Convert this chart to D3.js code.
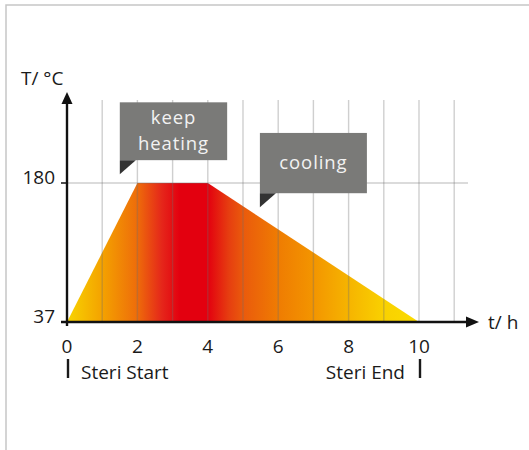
<!DOCTYPE html>
<html>
<head>
<meta charset="utf-8">
<script src="https://cdn.jsdelivr.net/npm/d3@7"></script>
<style>
  html, body { margin: 0; padding: 0; background: #fff; }
  svg { display: block; font-family: "Open Sans", "Noto Sans", sans-serif; }
</style>
</head>
<body>
<div id="chart"></div>
<script>
// sterilisation profile: time (h) vs temperature (°C)
const hours = [0, 2, 4, 10];
const temps = [37, 180, 180, 37];

const xTicks = [0, 2, 4, 6, 8, 10];
const yTicks = [37, 180];
const gridHours = [1, 2, 3, 4, 5, 6, 7, 8, 9, 10, 11];

// colour ramp along the time axis
const rampHours = [0, 1, 2, 2.7, 3.2, 4, 4.6, 5, 6, 7, 8, 9, 10];
const rampColors = ['#f8d400', '#f4a200', '#ee6c0a', '#e5261a', '#e3000f', '#e3000f', '#e63e10',
  '#ea5a0c', '#ef7c02', '#f39500', '#f6b400', '#f9d100', '#fbdc00'];

const callouts = [['keep', 'heating'], ['cooling']];
const markers = ['Steri Start', 'Steri End'];

const W = 529, H = 450;
const svg = d3.select('#chart').append('svg').attr('width', W).attr('height', H);

const x = d3.scaleLinear().domain([0, 10]).range([67, 419]);
const y = d3.scaleLinear().domain([37, 180]).range([322, 183]);

// frame
svg.append('path').attr('d', `M6,${H} L6,5 L${W},5`)
  .attr('fill', 'none').attr('stroke', '#c6c6c6').attr('stroke-width', 1.5);

// gradient
const defs = svg.append('defs');
const grad = defs.append('linearGradient').attr('id', 'heat')
  .attr('gradientUnits', 'userSpaceOnUse')
  .attr('x1', x(0)).attr('x2', x(10)).attr('y1', 0).attr('y2', 0);
rampHours.forEach((h, i) => grad.append('stop')
  .attr('offset', h / 10).attr('stop-color', rampColors[i]));

// area
const area = d3.area().x((d, i) => x(d)).y0(y(37)).y1((d, i) => y(temps[i]));
svg.append('path').datum(hours).attr('d', area).attr('fill', 'url(#heat)');

// grid
const grid = svg.append('g');
grid.selectAll('line.v').data(gridHours).join('line').attr('class', 'v')
  .attr('x1', d => x(d)).attr('x2', d => x(d))
  .attr('y1', 100).attr('y2', y(37))
  .attr('stroke', 'rgba(110,110,110,0.33)').attr('stroke-width', 1.4);
grid.append('line')
  .attr('x1', x(0) - 6).attr('x2', 468).attr('y1', y(180)).attr('y2', y(180))
  .attr('stroke', 'rgba(110,110,110,0.33)').attr('stroke-width', 1.4);

// axes
const ax = svg.append('g').attr('stroke', '#111').attr('stroke-width', 2.4);
ax.append('line').attr('x1', x(0)).attr('x2', x(0)).attr('y1', y(37) + 4).attr('y2', 102);
ax.append('line').attr('x1', x(0) - 6).attr('x2', 468).attr('y1', y(37)).attr('y2', y(37));
ax.append('line').attr('x1', x(0) - 6).attr('x2', x(0)).attr('y1', y(180)).attr('y2', y(180))
  .attr('stroke-width', 1.4);
svg.append('path').attr('d', `M${x(0)},92 L${x(0) + 5.5},104 L${x(0) - 5.5},104 Z`).attr('fill', '#111');
svg.append('path').attr('d', `M479,${y(37)} L466,${y(37) - 5.5} L466,${y(37) + 5.5} Z`).attr('fill', '#111');

const txt = (x0, y0, s, anchor = 'start', size = 19) => svg.append('text')
  .attr('x', x0).attr('y', y0).attr('text-anchor', anchor)
  .style('font-size', size + 'px').style('fill', '#1a1a1a').text(s);

// tick labels
xTicks.forEach(t => txt(x(t), 353, t, 'middle'));
yTicks.forEach(t => txt(55, y(t) + 1, t, 'end'));
txt(21, 85, 'T/ °C');
txt(488, 329, 't/ h');

// start / end markers
svg.selectAll('line.mk').data([0, 10]).join('line').attr('class', 'mk')
  .attr('x1', d => x(d) + 1).attr('x2', d => x(d) + 1).attr('y1', 359).attr('y2', 378)
  .attr('stroke', '#1a1a1a').attr('stroke-width', 2.4);
txt(x(0) + 14, 379, markers[0]);
txt(x(10) - 14, 379, markers[1], 'end');

// callout bubbles: [left, right] in hours, [bottom, top] in °C
const boxes = [
  { h: [1.5, 4.55], t: [203.5, 263] },
  { h: [5.48, 8.52], t: [169.5, 231.5] }
];
boxes.forEach((b, i) => {
  const x0 = x(b.h[0]), x1 = x(b.h[1]), yb = y(b.t[0]), yt = y(b.t[1]);
  const g = svg.append('g');
  g.append('rect').attr('x', x0).attr('y', yt).attr('width', x1 - x0).attr('height', yb - yt)
    .attr('fill', '#7a7a78');
  g.append('path').attr('d', `M${x0},${yb} L${x0 + 16},${yb} L${x0},${yb + 14} Z`).attr('fill', '#333');
  const lines = callouts[i];
  const cx = (x0 + x1) / 2, cy = (yb + yt) / 2;
  lines.forEach((s, j) => g.append('text')
    .attr('x', cx).attr('y', cy + 6 + (j - (lines.length - 1) / 2) * 26)
    .attr('text-anchor', 'middle').style('font-size', '18.5px')
    .style('letter-spacing', '0.9px').style('fill', '#f2f2f2').text(s));
});
</script>
</body>
</html>
